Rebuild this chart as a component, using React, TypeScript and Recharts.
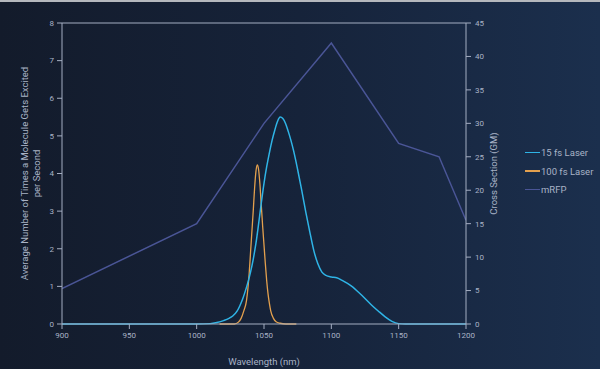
import React from "react";
import { LineChart, Line, XAxis, YAxis, ReferenceLine } from "recharts";

const xTicks = [900, 950, 1000, 1050, 1100, 1150, 1200];
const leftTicks = [0, 1, 2, 3, 4, 5, 6, 7, 8];
const rightTicks = [0, 5, 10, 15, 20, 25, 30, 35, 40, 45];

const laser15 = [
  { x: 900, y: 0 }, { x: 1000, y: 0 }, { x: 1010, y: 0.01 }, { x: 1015, y: 0.04 },
  { x: 1020, y: 0.09 }, { x: 1024, y: 0.15 }, { x: 1027, y: 0.22 }, { x: 1030, y: 0.34 },
  { x: 1032, y: 0.48 }, { x: 1034, y: 0.65 }, { x: 1036, y: 0.86 }, { x: 1038, y: 1.1 },
  { x: 1040, y: 1.38 }, { x: 1042, y: 1.72 }, { x: 1044, y: 2.14 }, { x: 1046, y: 2.66 },
  { x: 1048, y: 3.22 }, { x: 1050, y: 3.74 }, { x: 1052, y: 4.18 }, { x: 1054, y: 4.55 },
  { x: 1056, y: 4.88 }, { x: 1058, y: 5.15 }, { x: 1060, y: 5.38 }, { x: 1062, y: 5.5 },
  { x: 1064, y: 5.46 }, { x: 1066, y: 5.33 }, { x: 1068, y: 5.12 }, { x: 1070, y: 4.88 },
  { x: 1072, y: 4.6 }, { x: 1075, y: 4.1 }, { x: 1078, y: 3.56 }, { x: 1081, y: 2.98 },
  { x: 1084, y: 2.45 }, { x: 1087, y: 1.95 }, { x: 1090, y: 1.6 }, { x: 1093, y: 1.38 },
  { x: 1096, y: 1.29 }, { x: 1100, y: 1.25 }, { x: 1104, y: 1.23 }, { x: 1108, y: 1.16 },
  { x: 1112, y: 1.08 }, { x: 1116, y: 0.98 }, { x: 1120, y: 0.85 }, { x: 1125, y: 0.68 },
  { x: 1130, y: 0.5 }, { x: 1135, y: 0.34 }, { x: 1140, y: 0.19 }, { x: 1145, y: 0.07 },
  { x: 1150, y: 0.01 }, { x: 1155, y: 0 }, { x: 1200, y: 0 },
];

const laser100 = [
  { x: 1017, y: 0 }, { x: 1028, y: 0 }, { x: 1031, y: 0.05 }, { x: 1033, y: 0.15 },
  { x: 1035, y: 0.35 }, { x: 1037, y: 0.62 }, { x: 1039, y: 1.35 }, { x: 1040, y: 1.9 },
  { x: 1041, y: 2.45 }, { x: 1042, y: 3.0 }, { x: 1043, y: 3.6 }, { x: 1044, y: 4.05 },
  { x: 1045, y: 4.23 }, { x: 1046, y: 4.1 }, { x: 1047, y: 3.7 }, { x: 1048, y: 3.15 },
  { x: 1049, y: 2.6 }, { x: 1050, y: 2.1 }, { x: 1051, y: 1.6 }, { x: 1052, y: 1.15 },
  { x: 1053, y: 0.8 }, { x: 1054, y: 0.55 }, { x: 1055, y: 0.35 }, { x: 1057, y: 0.15 },
  { x: 1059, y: 0.06 }, { x: 1062, y: 0.02 }, { x: 1066, y: 0 }, { x: 1074, y: 0 },
];

const mrfp = [
  { x: 900, y: 5.3 }, { x: 1000, y: 15 }, { x: 1050, y: 30 }, { x: 1100, y: 42 },
  { x: 1150, y: 27 }, { x: 1180, y: 25 }, { x: 1200, y: 15.5 },
];

const legendItems = [
  { name: "15 fs Laser", color: "#2fb4e6" },
  { name: "100 fs Laser", color: "#e3a04e" },
  { name: "mRFP", color: "#4a5596" },
];

const AXIS = "#a4aec2";
const TEXT = "#a9b3c6";
const FONT = "Roboto, 'Noto Sans', sans-serif";

const LeftLabel = (props: any) => {
  const vb = props.viewBox || {};
  const cy = vb.y + vb.height / 2;
  const x1 = 24;
  return (
    <g>
      <text x={x1} y={cy} transform={`rotate(-90, ${x1}, ${cy})`} textAnchor="middle" dominantBaseline="central" fill={TEXT} fontSize={9.5} fontFamily={FONT}>
        Average Number of Times a Molecule Gets Excited
      </text>
      <text x={x1 + 12} y={cy} transform={`rotate(-90, ${x1 + 12}, ${cy})`} textAnchor="middle" dominantBaseline="central" fill={TEXT} fontSize={9.5} fontFamily={FONT}>
        per Second
      </text>
    </g>
  );
};

const RightLabel = (props: any) => {
  const vb = props.viewBox || {};
  const cy = vb.y + vb.height / 2;
  const x = 493;
  return (
    <text x={x} y={cy} transform={`rotate(-90, ${x}, ${cy})`} textAnchor="middle" dominantBaseline="central" fill={TEXT} fontSize={9.5} fontFamily={FONT}>
      Cross Section (GM)
    </text>
  );
};

export default function App() {
  return (
    <div
      style={{
        position: "absolute",
        left: 0,
        top: 0,
        width: 600,
        height: 369,
        background: "linear-gradient(90deg, #131b2b 0%, #16233a 50%, #1b2f4d 100%)",
        borderTop: "2px solid #b5b8bd",
        boxSizing: "border-box",
        overflow: "hidden",
      }}
    >
      <div style={{ position: "absolute", left: 0, top: -2 }}>
        <LineChart width={600} height={369} margin={{ top: 23, right: 100, bottom: 0, left: 0 }}>
          <XAxis
            dataKey="x"
            type="number"
            domain={[900, 1200]}
            ticks={xTicks}
            allowDataOverflow
            stroke={AXIS}
            tick={{ fill: TEXT, fontSize: 8, fontFamily: FONT }}
            tickSize={5}
            tickMargin={3}
            height={45}
            label={{ value: "Wavelength (nm)", position: "insideBottom", offset: 4, fill: TEXT, fontSize: 9.5, fontFamily: FONT }}
          />
          <YAxis
            yAxisId="left"
            domain={[0, 8]}
            ticks={leftTicks}
            stroke={AXIS}
            tick={{ fill: TEXT, fontSize: 8, fontFamily: FONT }}
            tickSize={5}
            tickMargin={3}
            width={62}
            label={<LeftLabel />}
          />
          <YAxis
            yAxisId="right"
            orientation="right"
            domain={[0, 45]}
            ticks={rightTicks}
            stroke={AXIS}
            tick={{ fill: TEXT, fontSize: 8, fontFamily: FONT }}
            tickSize={5}
            tickMargin={4}
            width={34}
            label={<RightLabel />}
          />
          <ReferenceLine yAxisId="left" y={8} stroke={AXIS} strokeWidth={1} />
          <Line
            yAxisId="right"
            data={mrfp}
            dataKey="y"
            type="linear"
            stroke="#4a5596"
            strokeWidth={1.5}
            dot={false}
            isAnimationActive={false}
          />
          <Line
            yAxisId="left"
            data={laser100}
            dataKey="y"
            type="monotone"
            stroke="#e3a04e"
            strokeWidth={1.3}
            dot={false}
            isAnimationActive={false}
          />
          <Line
            yAxisId="left"
            data={laser15}
            dataKey="y"
            type="monotone"
            stroke="#2fb4e6"
            strokeWidth={1.5}
            dot={false}
            isAnimationActive={false}
          />
        </LineChart>
      </div>
      <div style={{ position: "absolute", left: 525, top: 141, fontFamily: FONT, fontSize: 9.5, color: TEXT }}>
        {legendItems.map((it) => (
          <div key={it.name} style={{ display: "flex", alignItems: "center", height: 18.7 }}>
            <div style={{ width: 15, height: 1.5, background: it.color, marginRight: 1 }} />
            <span>{it.name}</span>
          </div>
        ))}
      </div>
    </div>
  );
}
